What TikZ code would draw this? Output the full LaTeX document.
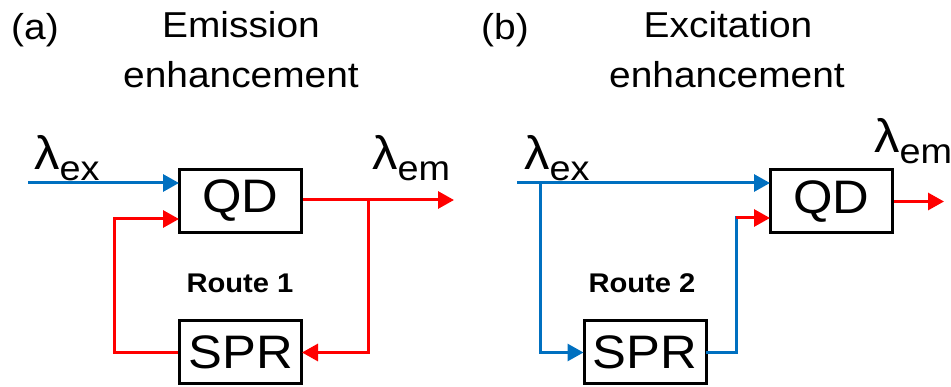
\documentclass[tikz,border=0pt]{standalone}
\usepackage{fontspec}
\setmainfont{Liberation Sans}[FakeStretch=1.08]
\usetikzlibrary{arrows.meta}
\definecolor{lineblue}{RGB}{0,112,192}
\definecolor{linered}{RGB}{255,0,0}
% wavelength label: large lambda with a lowered subscript
\newcommand\lamlabel[1]{{\fontsize{47}{47}\selectfont λ}\raisebox{-11pt}{\fontsize{35}{35}\selectfont #1}}

\begin{document}
\begin{tikzpicture}[x=1pt,y=-1pt,
  box/.style={draw=black, line width=3pt, minimum width=122pt, minimum height=63pt,
    inner sep=0pt, font=\fontsize{47}{47}\selectfont},
  title/.style={anchor=base, inner sep=0pt, font=\fontsize{36}{36}\selectfont},
  tag/.style={anchor=base west, inner sep=0pt, font=\fontsize{36}{36}\selectfont},
  lam/.style={anchor=base west, inner sep=0pt},
  route/.style={anchor=base, inner sep=0pt, font=\fontsize{27}{27}\selectfont\bfseries},
  tip/.style={-{Triangle[length=16pt,width=17pt]}, shorten >=-1pt},
  blueline/.style={draw=lineblue, line width=3pt},
  redline/.style={draw=linered, line width=3pt},
  bluearrow/.style={blueline, tip},
  redarrow/.style={redline, tip},
]
\useasboundingbox (0,0) rectangle (951,387);

% ---------- (a) emission enhancement ----------
\node[tag] (tagA) at (11,40) {(a)};
\node[title] (titleA1) at (241,38) {Emission};
\node[title] (titleA2) at (241,88) {enhancement};

\node[box] (qdA) at (240.5,201) {QD};
\node[box] (sprA) at (240.5,352.5) {SPR};

\node[lam] (lexA) at (34,170) {\lamlabel{ex}};
\node[lam] (lemA) at (372,170) {\lamlabel{em}};
\node[route] (routeA) at (240,293) {Route 1};

\coordinate (inA) at (28,183);
\coordinate (loopA) at (114,219);
\coordinate (tapA) at (368,200);
\coordinate (outA) at (453,200);

\draw[bluearrow] (inA) -- (inA -| qdA.west);
\draw[redarrow] (sprA.west) -| (loopA) -- (loopA -| qdA.west);
\draw[redarrow] (qdA.east |- outA) -- (outA);
\draw[redarrow] (tapA) |- (sprA.east);

% ---------- (b) excitation enhancement ----------
\node[tag] (tagB) at (481,40) {(b)};
\node[title] (titleB1) at (728,38) {Excitation};
\node[title] (titleB2) at (727,88) {enhancement};

\node[box] (qdB) at (831.5,201.5) {QD};
\node[box] (sprB) at (645,352.5) {SPR};

\node[lam] (lexB) at (524,170) {\lamlabel{ex}};
\node[lam] (lemB) at (874,153) {\lamlabel{em}};
\node[route] (routeB) at (642,293) {Route 2};

\coordinate (inB) at (517,183);
\coordinate (tapB) at (540,183);
\coordinate (riseB) at (736,218);
\coordinate (outB) at (943,201.5);

\draw[bluearrow] (inB) -- (inB -| qdB.west);
\draw[bluearrow] (tapB) |- (sprB.west);
\draw[blueline, line cap=rect] (sprB.east) -| (riseB);
\draw[redarrow] (riseB) -- (riseB -| qdB.west);
\draw[redarrow] (qdB.east |- outB) -- (outB);
\end{tikzpicture}
\end{document}
